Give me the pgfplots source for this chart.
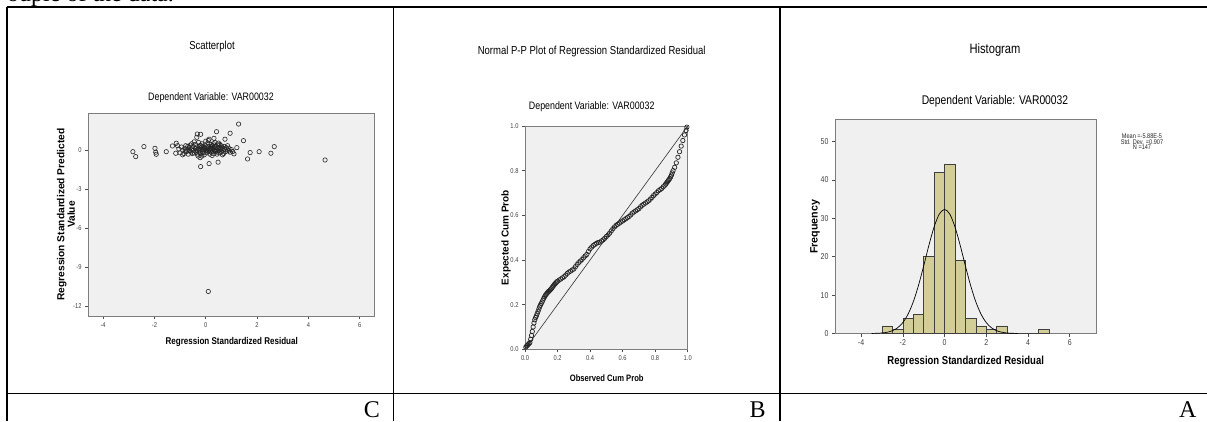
\documentclass[border=0pt]{standalone}
\usepackage{fontspec}
\setmainfont{Liberation Serif}
\newfontfamily\spss[FakeStretch=0.82]{Liberation Sans}
\newfontfamily\spssv{Liberation Sans}
\usepackage{pgfplots}
\pgfplotsset{compat=1.18}
\definecolor{plotbg}{RGB}{240,240,240}
\definecolor{framec}{RGB}{125,125,125}
\definecolor{barc}{RGB}{211,206,151}

\pgfplotsset{spss/.style={
  scale only axis, anchor=south west,
  axis background/.style={fill=plotbg},
  axis line style={framec, line width=0.9pt},
  tick align=outside, major tick length=3pt,
  tick style={black!70, line width=0.6pt},
  tick pos=left,
  tick label style={font=\spss\fontsize{7}{7}\selectfont, text=black!75},
  clip=false}}

\begin{document}
\begin{tikzpicture}[x=1pt,y=1pt]
\clip (0,-421) rectangle (1207,0);

% ---------- C: scatterplot ----------
\begin{axis}[spss, at={(88pt,-316pt)}, width=286.3pt, height=203pt,
  xmin=-4.59, xmax=6.57, ymin=-12.77, ymax=2.87,
  xtick={-4,-2,0,2,4,6}, xticklabels={-4,-2,0,2,4,6},
  ytick={-12,-9,-6,-3,0}, yticklabels={-12,-9,-6,-3,0}]
\addplot[only marks, mark=o, mark size=2.2pt, black!85, mark options={line width=0.6pt}] coordinates {
(-2.84,-0.11) (-2.73,-0.49) (-2.41,0.28) (-1.98,0.15) (-1.95,-0.15) (-1.93,-0.31)
(-1.54,-0.11) (-1.30,0.33) (-1.15,0.54) (-1.17,-0.23) (-0.35,1.0) (-0.33,1.25)
(-0.2,1.23) (0.42,1.43) (0.13,0.85) (0.32,0.92) (0.75,0.85) (0.95,1.31)
(1.28,2.02) (1.47,0.74) (1.21,0.2) (-0.2,-1.26) (0.13,-1.03) (0.48,-0.92)
(-0.22,-0.57) (1.73,-0.18) (1.63,-0.67) (2.08,-0.11) (2.54,-0.23) (2.67,0.28)
(4.65,-0.75) (1.1,-0.28) (0.1,-10.88)
(-1.05,0.1) (-1.0,-0.2) (-0.95,0.25) (-0.9,0.0) (-0.85,-0.25) (-0.82,0.15)
(-0.78,0.35) (-0.75,-0.1) (-0.7,0.05) (-0.68,-0.3) (-0.65,0.2) (-0.6,0.4)
(-0.58,-0.15) (-0.55,0.1) (-0.52,-0.25) (-0.5,0.3) (-0.48,0.0) (-0.45,-0.2)
(-0.42,0.15) (-0.4,0.45) (-0.38,-0.05) (-0.35,0.25) (-0.33,-0.3) (-0.3,0.1)
(-0.28,0.6) (-0.26,-0.15) (-0.24,0.35) (-0.22,0.0) (-0.2,-0.25) (-0.18,0.2)
(-0.15,0.5) (-0.13,-0.1) (-0.1,0.3) (-0.08,0.05) (-0.06,-0.35) (-0.04,0.15)
(-0.02,0.4) (0.0,-0.05) (0.02,0.25) (0.04,-0.2) (0.06,0.1) (0.08,0.55)
(0.1,-0.1) (0.12,0.3) (0.14,0.0) (0.16,-0.3) (0.18,0.2) (0.2,0.45)
(0.22,-0.15) (0.24,0.1) (0.26,0.35) (0.28,-0.05) (0.3,-0.25) (0.32,0.2)
(0.34,0.0) (0.36,0.6) (0.38,-0.1) (0.4,0.25) (0.42,0.05) (0.44,-0.3)
(0.46,0.15) (0.48,0.4) (0.5,-0.05) (0.52,0.2) (0.55,-0.2) (0.58,0.1)
(0.6,0.35) (0.62,-0.1) (0.65,0.15) (0.68,0.0) (0.7,-0.25) (0.72,0.3)
(0.75,0.05) (0.78,-0.1) (0.8,0.2) (0.85,0.0) (0.9,0.15) (0.95,-0.15)
(1.0,0.05) (-0.9,-0.35) (-0.7,0.3) (-0.55,0.5) (-0.3,-0.45) (0.0,0.7)
(0.25,-0.4) (0.5,0.55) (0.65,-0.35) (-0.45,0.65) (0.1,0.75) (0.3,0.5)
(-0.15,-0.45) (0.05,0.0) (-0.05,0.2) (0.15,0.12) (0.35,0.32) (-0.25,0.12)
(0.45,-0.15) (0.22,0.28) (-0.12,0.08) (0.55,0.45) (-0.62,-0.05) (0.85,0.35)
(-1.1,0.35) (1.05,-0.1) (-0.8,-0.05) (0.18,-0.05) (0.62,0.25) (-0.35,0.02)
(0.28,0.15) (-0.1,-0.2) (0.4,-0.05) (-0.65,0.0) (0.92,-0.05) (-0.18,0.35)
};
\end{axis}

% ---------- B: normal P-P plot ----------
\begin{axis}[spss, at={(525pt,-349.3pt)}, width=162.7pt, height=223.3pt,
  xmin=0, xmax=1, ymin=0, ymax=1,
  xtick={0,0.2,0.4,0.6,0.8,1}, xticklabels={0.0,0.2,0.4,0.6,0.8,1.0},
  ytick={0,0.2,0.4,0.6,0.8,1}, yticklabels={0.0,0.2,0.4,0.6,0.8,1.0}]
\addplot[black!80, line width=0.6pt] coordinates {(0,0) (1,1)};
\addplot[only marks, mark=o, mark size=2.2pt, black!85, mark options={line width=0.7pt}] coordinates {
(0.005,0.010) (0.010,0.015) (0.015,0.018) (0.020,0.022) (0.025,0.026) (0.030,0.030)
(0.035,0.045) (0.040,0.062) (0.045,0.080) (0.050,0.100) (0.055,0.118) (0.060,0.132)
(0.065,0.142) (0.070,0.150) (0.075,0.160) (0.080,0.170) (0.085,0.180) (0.090,0.190)
(0.095,0.198) (0.100,0.205) (0.105,0.212) (0.110,0.220) (0.115,0.228) (0.120,0.235)
(0.125,0.241) (0.130,0.246) (0.135,0.251) (0.140,0.255) (0.145,0.259) (0.150,0.262)
(0.155,0.266) (0.160,0.270) (0.165,0.275) (0.170,0.280) (0.175,0.285) (0.180,0.290)
(0.185,0.294) (0.190,0.298) (0.195,0.302) (0.200,0.305) (0.210,0.310) (0.220,0.315)
(0.230,0.320) (0.240,0.325) (0.250,0.332) (0.260,0.340) (0.270,0.346) (0.280,0.350)
(0.290,0.355) (0.300,0.360) (0.310,0.370) (0.320,0.380) (0.330,0.388) (0.340,0.395)
(0.350,0.402) (0.360,0.410) (0.370,0.418) (0.380,0.425) (0.390,0.438) (0.400,0.450)
(0.410,0.458) (0.420,0.465) (0.430,0.470) (0.440,0.475) (0.450,0.478) (0.460,0.480)
(0.470,0.485) (0.480,0.490) (0.490,0.497) (0.500,0.505) (0.510,0.512) (0.520,0.520)
(0.530,0.530) (0.540,0.540) (0.550,0.548) (0.560,0.555) (0.570,0.560) (0.580,0.565)
(0.590,0.570) (0.600,0.575) (0.610,0.580) (0.620,0.585) (0.630,0.590) (0.640,0.595)
(0.650,0.602) (0.660,0.610) (0.670,0.615) (0.680,0.620) (0.690,0.625) (0.700,0.630)
(0.710,0.638) (0.720,0.645) (0.730,0.650) (0.740,0.655) (0.750,0.660) (0.760,0.665)
(0.770,0.672) (0.780,0.680) (0.790,0.688) (0.800,0.695) (0.810,0.702) (0.820,0.710)
(0.830,0.715) (0.840,0.720) (0.850,0.728) (0.860,0.735) (0.865,0.740) (0.870,0.745)
(0.875,0.750) (0.880,0.755) (0.885,0.760) (0.890,0.765) (0.895,0.772) (0.900,0.780)
(0.905,0.790) (0.910,0.800) (0.920,0.815) (0.930,0.835) (0.940,0.860) (0.950,0.885)
(0.960,0.910) (0.970,0.935) (0.980,0.960) (0.990,0.980) (0.995,0.995)
};
\end{axis}

% ---------- A: histogram ----------
\begin{axis}[spss, at={(835pt,-333.5pt)}, width=261pt, height=214.2pt,
  xmin=-5.25, xmax=7.26, ymin=0, ymax=55.8,
  xtick={-4,-2,0,2,4,6}, xticklabels={-4,-2,0,2,4,6},
  ytick={0,10,20,30,40,50}, yticklabels={0,10,20,30,40,50},
  tick label style={font=\spss\fontsize{8.5}{8.5}\selectfont}]
\addplot[ybar interval, fill=barc, draw=black!75, line width=0.5pt] coordinates {
(-3,2) (-2.5,1) (-2,4) (-1.5,5) (-1,20) (-0.5,42) (0,44) (0.5,19)
(1,4) (1.5,2) (2,1) (2.5,2) (3,0) (4.5,1) (5,0)};
\addplot[black, line width=0.7pt, smooth] coordinates {
(-3.5,0.019) (-3.25,0.053) (-3,0.136) (-2.75,0.326) (-2.5,0.724) (-2.25,1.49)
(-2,2.84) (-1.75,5.03) (-1.5,8.24) (-1.25,12.51) (-1,17.60) (-0.75,22.97)
(-0.5,27.77) (-0.25,31.12) (0,32.33) (0.25,31.12) (0.5,27.77) (0.75,22.97)
(1,17.60) (1.25,12.51) (1.5,8.24) (1.75,5.03) (2,2.84) (2.25,1.49)
(2.5,0.724) (2.75,0.326) (3,0.136) (3.25,0.053) (3.5,0.019)};
\end{axis}

% ---------- titles and labels ----------
\node[font=\spss\fontsize{11.6}{12}\selectfont] at (212,-46.7) {Scatterplot};
\node[font=\spss\fontsize{10.8}{11}\selectfont] at (211,-97.7) {Dependent Variable: VAR00032};
\node[font=\spss\bfseries\fontsize{9.8}{10}\selectfont] at (231.7,-342.3) {Regression Standardized Residual};
\node[rotate=90, align=center, font=\spssv\bfseries\fontsize{10.2}{8.5}\selectfont] at (66,-214.5) {Regression Standardized Predicted\\Value};

\node[font=\spss\fontsize{11.6}{12}\selectfont] at (591.7,-51.7) {Normal P-P Plot of Regression Standardized Residual};
\node[font=\spss\fontsize{10.8}{11}\selectfont] at (591.7,-106.7) {Dependent Variable: VAR00032};
\node[font=\spss\bfseries\fontsize{9.3}{10}\selectfont] at (606.7,-377.7) {Observed Cum Prob};
\node[rotate=90, font=\spssv\bfseries\fontsize{10}{10}\selectfont] at (506,-237.6) {Expected Cum Prob};

\node[font=\spss\fontsize{13.6}{14}\selectfont] at (995,-50) {Histogram};
\node[font=\spss\fontsize{12.6}{13}\selectfont] at (995,-101) {Dependent Variable: VAR00032};
\node[font=\spss\bfseries\fontsize{11.6}{12}\selectfont] at (965.7,-361.7) {Regression Standardized Residual};
\node[rotate=90, font=\spssv\bfseries\fontsize{10.7}{11}\selectfont] at (815,-226.7) {Frequency};
\node[align=center, font=\spss\fontsize{6.8}{5.5}\selectfont, text=black!85] at (1142,-142) {Mean =-5.88E-5\\Std. Dev. =0.907\\N =147};

% ---------- surrounding table ----------
\draw[line width=1.6pt] (7,-6.7) -- (1207,-6.7);
\draw[line width=1.6pt] (7,-6.7) -- (7,-421);
\draw[line width=1.6pt] (393.3,-6.7) -- (393.3,-421);
\draw[line width=1.6pt] (780,-6.7) -- (780,-421);
\draw[line width=1.6pt] (7,-393.3) -- (1207,-393.3);
\node[overlay, anchor=base west, inner sep=0, font=\fontsize{24}{24}\selectfont] at (7,-1.5) {ouple of the data.};
\node[anchor=base east, inner sep=0, font=\fontsize{24}{24}\selectfont] at (380,-417.8) {C};
\node[anchor=base east, inner sep=0, font=\fontsize{24}{24}\selectfont] at (765.7,-417.8) {B};
\node[anchor=base east, inner sep=0, font=\fontsize{24}{24}\selectfont] at (1196.7,-417.8) {A};
\end{tikzpicture}
\end{document}
